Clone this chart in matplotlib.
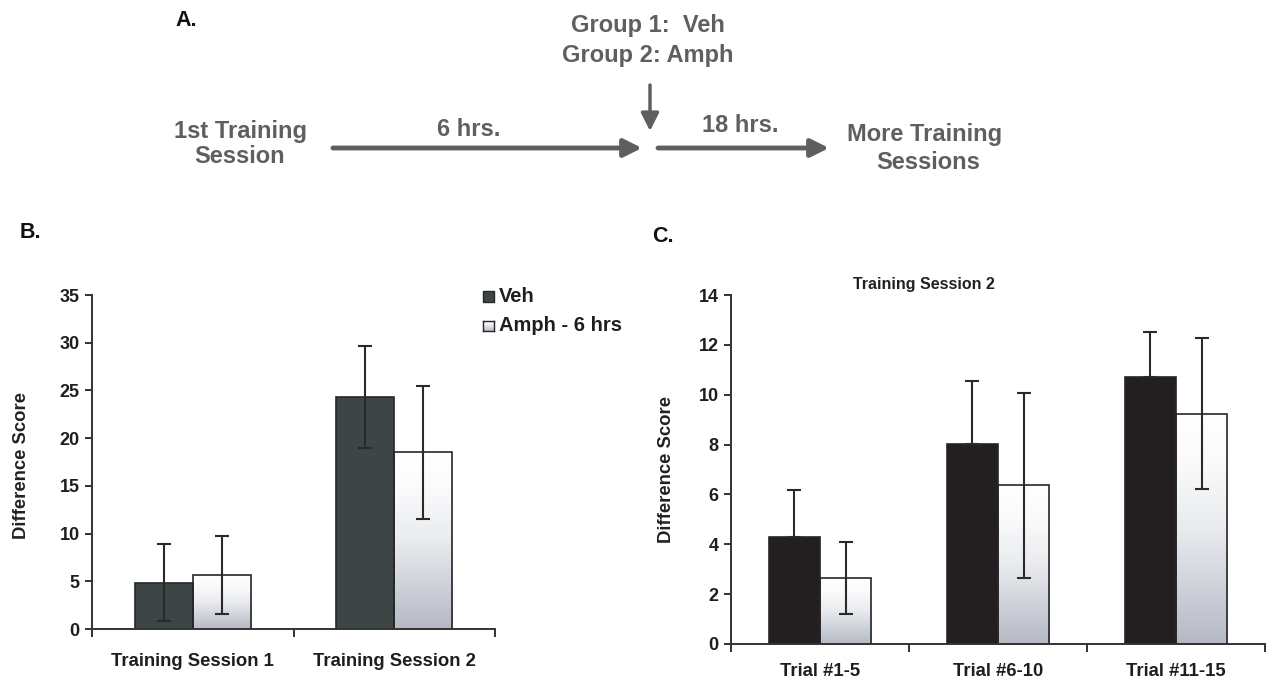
import numpy as np
import matplotlib
matplotlib.use("Agg")
import matplotlib.pyplot as plt
from matplotlib.patches import Rectangle, FancyArrowPatch
from matplotlib.colors import LinearSegmentedColormap

plt.rcParams["font.family"] = ["Liberation Sans", "DejaVu Sans"]
plt.rcParams["font.weight"] = "bold"

# ---- data -------------------------------------------------------------
sessions = ["Training Session 1", "Training Session 2"]
veh_b = [4.85, 24.35]
veh_b_err = [4.05, 5.35]
amph_b = [5.65, 18.5]
amph_b_err = [4.05, 6.95]
b_yticks = [0, 5, 10, 15, 20, 25, 30, 35]

trials = ["Trial #1-5", "Trial #6-10", "Trial #11-15"]
veh_c = [4.28, 8.02, 10.72]
veh_c_err = [1.88, 2.52, 1.78]
amph_c = [2.66, 6.36, 9.24]
amph_c_err = [1.44, 3.72, 3.02]
c_yticks = [0, 2, 4, 6, 8, 10, 12, 14]

legend_labels = ["Veh", "Amph - 6 hrs"]
timeline_groups = ["Group 1:  Veh", "Group 2: Amph"]

# ---- figure -----------------------------------------------------------
W, H = 1268, 683
fig = plt.figure(figsize=(W / 100, H / 100), dpi=100)


def fx(x):
    return x / W


def fy(y):
    return 1 - y / H


grad_cmap = LinearSegmentedColormap.from_list(
    "amph", [(0.0, "#b5b9c5"), (0.5, "#e9ebee"), (0.8, "#fbfbfc"), (1.0, "#ffffff")]
)
EDGE = "#262626"
AXCOL = "#333333"
VEH_B = "#3e4546"


def gradient_fill(ax, bar):
    x0, y0 = bar.get_x(), bar.get_y()
    w, h = bar.get_width(), bar.get_height()
    g = np.linspace(0, 1, 256).reshape(-1, 1)
    im = ax.imshow(g, cmap=grad_cmap, extent=[x0, x0 + w, y0, y0 + h],
                   origin="lower", aspect="auto", zorder=1.5,
                   interpolation="bilinear")
    im.set_clip_path(bar)


def panel(ax, cats, veh, veh_err, amph, amph_err, yticks, veh_color,
          veh_upper_only, xpad):
    n = len(cats)
    x = np.arange(n)
    bw = 0.288
    ax.bar(x - bw / 2, veh, bw, color=veh_color, edgecolor=EDGE,
           linewidth=1.2, zorder=2)
    ab = ax.bar(x + bw / 2, amph, bw, facecolor="none", edgecolor=EDGE,
                linewidth=1.2, zorder=2)
    for b in ab:
        gradient_fill(ax, b)
    verr = [np.zeros(n), veh_err] if veh_upper_only else veh_err
    ax.errorbar(x - bw / 2, veh, yerr=verr, fmt="none", ecolor="#2a2a2a",
                elinewidth=1.5, capsize=5, capthick=1.5, zorder=3)
    ax.errorbar(x + bw / 2, amph, yerr=amph_err, fmt="none", ecolor="#2a2a2a",
                elinewidth=1.5, capsize=5, capthick=1.5, zorder=3)
    ax.set_xlim(-0.5, n - 0.5)
    ax.set_ylim(yticks[0], yticks[-1])
    ax.set_yticks(yticks)
    ax.set_xticks(x)
    ax.set_xticklabels(cats, fontsize=13.3, fontweight="bold", color="#1e1e1e")
    ax.set_xticks(np.arange(n + 1) - 0.5, minor=True)
    ax.tick_params(axis="x", which="major", length=0, pad=xpad)
    ax.tick_params(axis="x", which="minor", length=6, width=1.4, color=AXCOL)
    ax.tick_params(axis="y", length=5, width=1.4, color=AXCOL,
                   labelsize=13, pad=4, labelcolor="#1e1e1e")
    for lab in ax.get_yticklabels():
        lab.set_fontweight("bold")
    for s in ("top", "right"):
        ax.spines[s].set_visible(False)
    for s in ("left", "bottom"):
        ax.spines[s].set_color(AXCOL)
        ax.spines[s].set_linewidth(1.4)
    ax.set_ylabel("Difference Score", fontsize=13.3, fontweight="bold",
                  color="#222222")


# Panel B
axB = fig.add_axes([fx(92), fy(629), fx(495) - fx(92), fy(295) - fy(629)])
panel(axB, sessions, veh_b, veh_b_err, amph_b, amph_b_err,
      b_yticks, VEH_B, False, 17)
axB.yaxis.set_label_coords(-0.155, 0.49)

# Panel C
axC = fig.add_axes([fx(731), fy(644), fx(1265) - fx(731), fy(295) - fy(644)])
panel(axC, trials, veh_c, veh_c_err, amph_c, amph_c_err, c_yticks,
      "#231f20", True, 14)
axC.yaxis.set_label_coords(-0.105, 0.5)
fig.text(fx(924), fy(284), "Training Session 2", ha="center", va="center",
         fontsize=11.5, fontweight="bold", color="#222222")

# Legend for panel B (square swatches + labels)
sq = 11
for i, lab in enumerate(legend_labels):
    cy = 296 + 30 * i
    x0, y0 = 483, cy - sq / 2
    if i == 0:
        fig.add_artist(Rectangle((fx(x0), fy(y0 + sq)), sq / W, sq / H,
                                 transform=fig.transFigure, facecolor=VEH_B,
                                 edgecolor=EDGE, linewidth=1.0))
    else:
        sw = fig.add_axes([fx(x0), fy(y0 + sq), sq / W, sq / H])
        sw.imshow(np.linspace(0, 1, 64).reshape(-1, 1), cmap=grad_cmap,
                  origin="lower", aspect="auto")
        sw.set_xticks([])
        sw.set_yticks([])
        for s in sw.spines.values():
            s.set_color(EDGE)
            s.set_linewidth(1.0)
    fig.text(fx(499), fy(cy), lab, ha="left", va="center", fontsize=14.5,
             fontweight="bold", color="#1e1e1e")

# Panel letters
for letter, (px_, py_) in {"A.": (175, 20), "B.": (20, 232), "C.": (652, 237)}.items():
    fig.text(fx(px_), fy(py_), letter, ha="left", va="center", fontsize=15.5,
             fontweight="bold", color="#111111")

# Panel A timeline
GRAY = "#5e5f61"
FS_A = 17
timeline_text = [
    (timeline_groups[0], 648, 32),
    (timeline_groups[1], 648, 62),
    ("1st Training", 240, 138),
    ("Session", 240, 163),
    ("6 hrs.", 469, 136),
    ("18 hrs.", 740, 132),
    ("More Training", 925, 141),
    ("Sessions", 928, 169),
]
for txt, tx, ty in timeline_text:
    fig.text(fx(tx), fy(ty), txt, ha="center", va="baseline", fontsize=FS_A,
             fontweight="bold", color=GRAY)


def arrow(x0, y0, x1, y1, lw):
    a = FancyArrowPatch((fx(x0), fy(y0)), (fx(x1), fy(y1)),
                        transform=fig.transFigure,
                        arrowstyle="-|>,head_length=0.9,head_width=0.45",
                        mutation_scale=12, linewidth=lw, color=GRAY,
                        shrinkA=0, shrinkB=0)
    fig.add_artist(a)


arrow(333, 148, 642, 148, 3.5)
arrow(658, 148, 829, 148, 3.5)
arrow(650, 85, 650, 131, 2.5)

fig.savefig("out.png", dpi=100)
